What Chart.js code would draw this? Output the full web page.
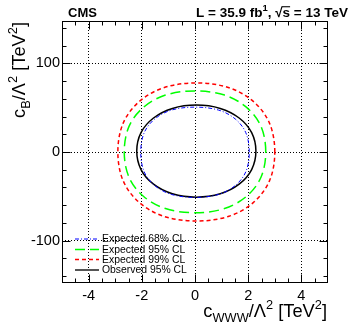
<!DOCTYPE html>
<html><head><meta charset="utf-8">
<script src="https://cdn.jsdelivr.net/npm/chart.js@4.4.0/dist/chart.umd.min.js"></script>
<style>html,body{margin:0;padding:0;background:#fff;}</style>
</head><body>
<canvas id="c" width="349" height="333"></canvas>
<script>
// ---- data ----
const xTicks = [-4, -2, 0, 2, 4];
const yTicks = [-100, 0, 100];
const xRange = [-5, 5];
const yRange = [-148, 148];
const seriesNames = ['Expected 68% CL', 'Expected 95% CL', 'Expected 99% CL', 'Observed 95% CL'];
// closed contours, points listed around the curve (x = cWWW/Λ², y = cB/Λ²)
const exp68 = [[2.04,-0.3],[1.91,21.8],[1.51,37.4],[0.89,47.3],[0.0,50.7],[-0.89,47.3],[-1.51,37.4],[-1.91,21.8],
               [-2.04,-0.3],[-1.91,-22.4],[-1.51,-38.0],[-0.89,-47.9],[0.0,-51.3],[0.89,-47.9],[1.51,-38.0],[1.91,-22.4]];
const exp95 = [[2.66,0.2],[2.48,29.0],[1.94,50.4],[1.11,64.3],[0,69],[-1.11,64.3],[-1.94,50.4],[-2.48,29.0],
               [-2.66,0.2],[-2.48,-28.6],[-1.94,-50.0],[-1.11,-63.9],[0,-68.6],[1.11,-63.9],[1.94,-50.0],[2.48,-28.6]];
const exp99 = [[3.00,0],[2.80,32.6],[2.20,56.9],[1.28,72.6],[0.05,78],[-1.18,72.6],[-2.10,56.9],[-2.70,32.6],
               [-2.90,0],[-2.70,-32.6],[-2.10,-56.9],[-1.18,-72.6],[0.05,-78],[1.28,-72.6],[2.20,-56.9],[2.80,-32.6]];
const obs95 = [[2.29,1],[2.13,21.9],[1.66,38.4],[0.95,49.2],[0.05,53],[-0.85,49.2],[-1.56,38.4],[-2.03,21.9],
               [-2.19,1],[-2.03,-19.9],[-1.56,-36.4],[-0.85,-47.2],[0.05,-51],[0.95,-47.2],[1.66,-36.4],[2.13,-19.9]];

// ---- styles ----
const FONT = '"Liberation Sans", Arial, Helvetica, sans-serif';
const styles = [
  {color:'#0000ff', width:1,   dash:[4,2,1,2], order:0},
  {color:'#00ff00', width:1.5, dash:[10,5],    order:2},
  {color:'#ff0000', width:1.5, dash:[4,3],     order:3},
  {color:'#000000', width:1.5, dash:[],        order:1},
];
const legendStyles = [
  {color:'#0000ff', width:1, dash:[4,2,1,2]},
  {color:'#00ff00', width:1.5, dash:[10,5]},
  {color:'#ff0000', width:1.5, dash:[4,3]},
  {color:'#555555', width:2, dash:[]},
];
const toPts = arr => arr.map(([x, y]) => ({x, y}));

function richWidth(ctx, parts, size, weight) {
  let w = 0;
  for (const [t, m] of parts) {
    ctx.font = `${weight} ${(m === 1 || m === 2) ? size * 0.7 : size}px ${FONT}`;
    w += ctx.measureText(t).width;
  }
  return w;
}
function drawRich(ctx, parts, x, y, size, align, weight) {
  weight = weight || 'normal';
  const w = richWidth(ctx, parts, size, weight);
  let cx = align === 'right' ? x - w : (align === 'center' ? x - w / 2 : x);
  ctx.textAlign = 'left'; ctx.textBaseline = 'alphabetic';
  for (const [t, m] of parts) {
    const s = (m === 1 || m === 2) ? size * 0.7 : size;
    ctx.font = `${weight} ${s}px ${FONT}`;
    const dy = m === 1 ? size * 0.3 : (m === 2 ? -size * 0.42 : 0);
    ctx.fillText(t, cx, y + dy);
    const tw = ctx.measureText(t).width;
    if (m === 3) ctx.fillRect(cx - 0.5, y - size * 0.8, tw + 0.5, Math.max(1, size * 0.08));
    cx += tw;
  }
}

const loopPlugin = {
  id: 'loop',
  afterDatasetUpdate(chart, args) {
    const line = args.meta.dataset;
    if (!line) return;
    line._loop = true; line._fullLoop = true; line._pointsUpdated = false;
    delete line._segments; delete line._path;
  }
};

const overlay = {
  id: 'overlay',
  afterDraw(chart) {
    const {ctx, chartArea: a, scales: {x, y}} = chart;
    ctx.save();
    ctx.strokeStyle = '#000'; ctx.lineWidth = 1; ctx.setLineDash([]);
    const L = Math.round(a.left) + 0.5, R = Math.round(a.right) - 0.5;
    const T = Math.round(a.top) + 0.5, B = Math.round(a.bottom) - 0.5;
    ctx.strokeRect(L, T, R - L, B - T);
    ctx.beginPath();
    for (let v = -4.5; v <= 4.51; v += 0.5) {
      const px = Math.round(x.getPixelForValue(v)) + 0.5;
      const len = xTicks.includes(Math.round(v * 10) / 10) ? 8 : 4;
      ctx.moveTo(px, B); ctx.lineTo(px, B - len);
      ctx.moveTo(px, T); ctx.lineTo(px, T + len);
    }
    for (let v = -140; v <= 140; v += 20) {
      const py = Math.round(y.getPixelForValue(v)) + 0.5;
      const len = yTicks.includes(v) ? 8 : 4;
      ctx.moveTo(L, py); ctx.lineTo(L + len, py);
      ctx.moveTo(R, py); ctx.lineTo(R - len, py);
    }
    ctx.stroke();

    // legend
    const rows = [239, 249.5, 259.5, 270];
    seriesNames.forEach((name, i) => {
      const st = legendStyles[i];
      ctx.beginPath();
      ctx.strokeStyle = st.color; ctx.lineWidth = st.width; ctx.setLineDash(st.dash);
      ctx.moveTo(75, rows[i]); ctx.lineTo(99, rows[i]); ctx.stroke();
      ctx.setLineDash([]);
      ctx.fillStyle = '#000'; ctx.font = `10.4px ${FONT}`;
      ctx.textAlign = 'left'; ctx.textBaseline = 'middle';
      ctx.fillText(name, 102, rows[i] + 0.5);
    });

    ctx.fillStyle = '#000';
    // header
    drawRich(ctx, [['CMS', 0]], 68, 17, 13, 'left', 'bold');
    drawRich(ctx, [['L = 35.9 fb', 0], ['1', 2], [', ', 0], ['\u221A', 0], ['s', 3], [' = 13 TeV', 0]], 348, 17, 13.5, 'right', 'bold');
    // x title
    drawRich(ctx, [['c', 0], ['WWW', 1], ['/\u039B', 0], ['2', 2], [' [TeV', 0], ['2', 2], [']', 0]], 327, 317, 18.3, 'right');
    // y title
    ctx.save();
    ctx.translate(25, 22); ctx.rotate(-Math.PI / 2);
    drawRich(ctx, [['c', 0], ['B', 1], ['/\u039B', 0], ['2', 2], [' [TeV', 0], ['2', 2], [']', 0]], 0, 0, 18.3, 'right');
    ctx.restore();
    ctx.restore();
  }
};

const series = [exp68, exp95, exp99, obs95];
new Chart(document.getElementById('c').getContext('2d'), {
  type: 'line',
  data: {
    datasets: series.map((s, i) => ({
      label: seriesNames[i], data: toPts(s),
      borderColor: styles[i].color, borderWidth: styles[i].width, borderDash: styles[i].dash,
      order: styles[i].order, fill: false, pointRadius: 0, tension: 0.34
    }))
  },
  options: {
    responsive: false, animation: false, devicePixelRatio: 1,
    layout: {padding: {left: 0, top: 21, right: 21, bottom: 0}},
    plugins: {legend: {display: false}, tooltip: {enabled: false}},
    events: [],
    scales: {
      x: {
        type: 'linear', min: xRange[0], max: xRange[1],
        afterBuildTicks: s => { s.ticks = xTicks.map(v => ({value: v})); },
        afterFit: s => { s.height = 50; },
        grid: {color: '#000', lineWidth: 1, drawTicks: false},
        border: {display: false, dash: [1, 2]},
        ticks: {padding: 4, color: '#000', font: {family: FONT, size: 14.5}, maxRotation: 0, autoSkip: false}
      },
      y: {
        type: 'linear', min: yRange[0], max: yRange[1],
        afterBuildTicks: s => { s.ticks = yTicks.map(v => ({value: v})); },
        afterFit: s => { s.width = 62; },
        grid: {color: '#000', lineWidth: 1, drawTicks: false},
        border: {display: false, dash: [1, 2]},
        ticks: {padding: 2, color: '#000', font: {family: FONT, size: 14.5}, autoSkip: false}
      }
    }
  },
  plugins: [loopPlugin, overlay]
});
</script>
</body></html>
